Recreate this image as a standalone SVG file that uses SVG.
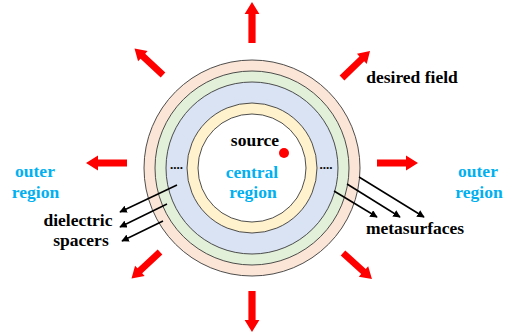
<svg xmlns="http://www.w3.org/2000/svg" width="513" height="334" viewBox="0 0 513 334">
<style>
.ring{stroke:#3a3a3a;stroke-width:0.9}
.t{font-family:"Liberation Serif","Times New Roman",serif;font-weight:bold;font-size:17.5px;text-anchor:middle}
.blk{fill:#000}
.cy{fill:#00B0F0}
.ptr{stroke:#000;stroke-width:1.5;fill:none;marker-end:url(#ah)}
</style>
<defs>
<marker id="ah" viewBox="0 0 10 10" refX="9" refY="5" markerWidth="5" markerHeight="5" orient="auto" markerUnits="strokeWidth">
<path d="M0,0 L10,5 L0,10 z" fill="#000"/>
</marker>
<path id="ra" d="M0,-3.6 L29,-3.6 L29,-7.4 L41,0 L29,7.4 L29,3.6 L0,3.6 z" fill="#FF0000"/>
</defs>
<g id="rings">
<circle class="ring" cx="252" cy="168" r="108" fill="#FBE5D6"/>
<circle class="ring" cx="252" cy="168" r="97" fill="#E2F0D9"/>
<circle class="ring" cx="252" cy="168" r="86" fill="#DAE3F3"/>
<circle class="ring" cx="252" cy="168" r="65" fill="#FFF2CC"/>
<circle class="ring" cx="252" cy="168" r="54" fill="#FFFFFF"/>
</g>
<g id="central">
<text class="t blk" x="255" y="146">source</text>
<circle cx="284" cy="153" r="5" fill="#FF0000"/>
<text class="t cy" x="252" y="178">central</text>
<text class="t cy" x="253" y="198">region</text>
<text class="t blk" x="176.5" y="169" style="font-size:13px">....</text>
<text class="t blk" x="326" y="169" style="font-size:13px">....</text>
</g>
<g id="field-arrows">
<use href="#ra" transform="translate(252,43) rotate(-90)"/>
<use href="#ra" transform="translate(252,291) rotate(90)"/>
<use href="#ra" transform="translate(127,163) rotate(180)"/>
<use href="#ra" transform="translate(377,163)"/>
<use href="#ra" transform="translate(163,75) rotate(-137) scale(0.95)"/>
<use href="#ra" transform="translate(342,78) rotate(-44) scale(0.95)"/>
<use href="#ra" transform="translate(160,252) rotate(137) scale(0.95)"/>
<use href="#ra" transform="translate(343,253) rotate(42) scale(0.95)"/>
</g>
<g id="desired-field"><text class="t blk" x="412" y="83">desired field</text></g>
<g id="outer-left"><text class="t cy" x="35" y="177">outer</text><text class="t cy" x="35.5" y="198">region</text></g>
<g id="outer-right"><text class="t cy" x="478" y="177">outer</text><text class="t cy" x="479" y="198">region</text></g>
<g id="dielectric"><text class="t blk" x="78" y="226">dielectric</text><text class="t blk" x="81" y="246">spacers</text></g>
<g id="metasurfaces"><text class="t blk" x="415" y="234">metasurfaces</text></g>
<g id="connectors">
<line class="ptr" x1="177" y1="185" x2="120" y2="212"/>
<line class="ptr" x1="167" y1="204" x2="120" y2="227"/>
<line class="ptr" x1="163" y1="221" x2="122" y2="241"/>
<line class="ptr" x1="359" y1="177" x2="424" y2="217"/>
<line class="ptr" x1="347" y1="184" x2="400" y2="217"/>
<line class="ptr" x1="334" y1="191" x2="377" y2="217"/>
</g>
</svg>
